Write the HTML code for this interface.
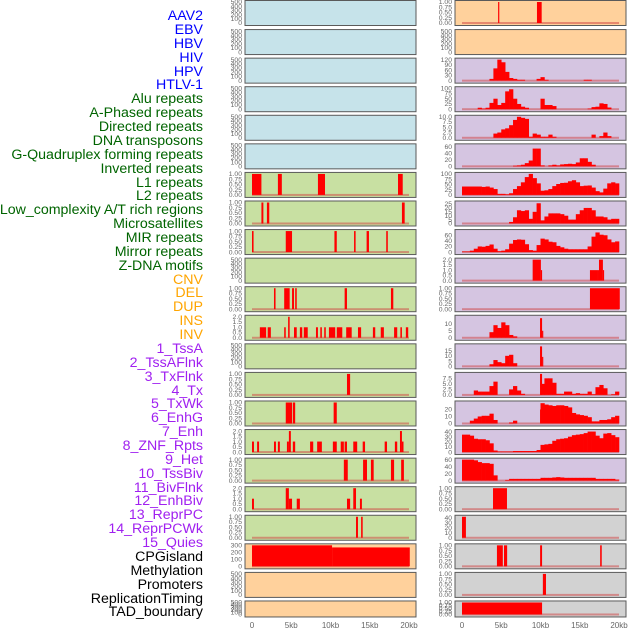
<!DOCTYPE html>
<html><head><meta charset="utf-8"><style>
html,body{margin:0;padding:0;background:#fff;}
svg{display:block;font-family:"Liberation Sans",sans-serif;}
.lab{font-size:14.2px;}
.tk{font-size:6.8px;fill:#666;}
.xt{font-size:8px;fill:#666;}
</style></head><body>
<svg id="chart" width="630" height="630" viewBox="0 0 630 630">
<g id="labels">
<text class="lab" x="203" y="20" text-anchor="end" fill="#0000ff">AAV2</text>
<text class="lab" x="203" y="34" text-anchor="end" fill="#0000ff">EBV</text>
<text class="lab" x="203" y="48" text-anchor="end" fill="#0000ff">HBV</text>
<text class="lab" x="203" y="62" text-anchor="end" fill="#0000ff">HIV</text>
<text class="lab" x="203" y="76" text-anchor="end" fill="#0000ff">HPV</text>
<text class="lab" x="203" y="89" text-anchor="end" fill="#0000ff">HTLV-1</text>
<text class="lab" x="203" y="103" text-anchor="end" fill="#006400">Alu repeats</text>
<text class="lab" x="203" y="117" text-anchor="end" fill="#006400">A-Phased repeats</text>
<text class="lab" x="203" y="131" text-anchor="end" fill="#006400">Directed repeats</text>
<text class="lab" x="203" y="145" text-anchor="end" fill="#006400">DNA transposons</text>
<text class="lab" x="203" y="159" text-anchor="end" fill="#006400">G-Quadruplex forming repeats</text>
<text class="lab" x="203" y="173" text-anchor="end" fill="#006400">Inverted repeats</text>
<text class="lab" x="203" y="187" text-anchor="end" fill="#006400">L1 repeats</text>
<text class="lab" x="203" y="200" text-anchor="end" fill="#006400">L2 repeats</text>
<text class="lab" x="203" y="214" text-anchor="end" fill="#006400">Low_complexity A/T rich regions</text>
<text class="lab" x="203" y="228" text-anchor="end" fill="#006400">Microsatellites</text>
<text class="lab" x="203" y="242" text-anchor="end" fill="#006400">MIR repeats</text>
<text class="lab" x="203" y="256" text-anchor="end" fill="#006400">Mirror repeats</text>
<text class="lab" x="203" y="270" text-anchor="end" fill="#006400">Z-DNA motifs</text>
<text class="lab" x="203" y="284" text-anchor="end" fill="#ffa500">CNV</text>
<text class="lab" x="203" y="297" text-anchor="end" fill="#ffa500">DEL</text>
<text class="lab" x="203" y="311" text-anchor="end" fill="#ffa500">DUP</text>
<text class="lab" x="203" y="325" text-anchor="end" fill="#ffa500">INS</text>
<text class="lab" x="203" y="339" text-anchor="end" fill="#ffa500">INV</text>
<text class="lab" x="203" y="353" text-anchor="end" fill="#a020f0">1_TssA</text>
<text class="lab" x="203" y="367" text-anchor="end" fill="#a020f0">2_TssAFlnk</text>
<text class="lab" x="203" y="381" text-anchor="end" fill="#a020f0">3_TxFlnk</text>
<text class="lab" x="203" y="395" text-anchor="end" fill="#a020f0">4_Tx</text>
<text class="lab" x="203" y="408" text-anchor="end" fill="#a020f0">5_TxWk</text>
<text class="lab" x="203" y="422" text-anchor="end" fill="#a020f0">6_EnhG</text>
<text class="lab" x="203" y="436" text-anchor="end" fill="#a020f0">7_Enh</text>
<text class="lab" x="203" y="450" text-anchor="end" fill="#a020f0">8_ZNF_Rpts</text>
<text class="lab" x="203" y="464" text-anchor="end" fill="#a020f0">9_Het</text>
<text class="lab" x="203" y="478" text-anchor="end" fill="#a020f0">10_TssBiv</text>
<text class="lab" x="203" y="492" text-anchor="end" fill="#a020f0">11_BivFlnk</text>
<text class="lab" x="203" y="505" text-anchor="end" fill="#a020f0">12_EnhBiv</text>
<text class="lab" x="203" y="519" text-anchor="end" fill="#a020f0">13_ReprPC</text>
<text class="lab" x="203" y="533" text-anchor="end" fill="#a020f0">14_ReprPCWk</text>
<text class="lab" x="203" y="547" text-anchor="end" fill="#a020f0">15_Quies</text>
<text class="lab" x="203" y="561" text-anchor="end" fill="#000">CPGisland</text>
<text class="lab" x="203" y="575" text-anchor="end" fill="#000">Methylation</text>
<text class="lab" x="203" y="589" text-anchor="end" fill="#000">Promoters</text>
<text class="lab" x="203" y="603" text-anchor="end" fill="#000">ReplicationTiming</text>
<text class="lab" x="203" y="616" text-anchor="end" fill="#000">TAD_boundary</text>
</g>
<g id="panels"></g>
<g id="xaxes"></g>
</svg>
<script>
// ---------- data (kb positions / values) ----------
const xTickValues = [0, 5, 10, 15, 20];
const xTickLabels = ["0", "5kb", "10kb", "15kb", "20kb"];
const binSize = 0.5;

// left column interval tracks: [startKb, endKb, value]
const leftL1 = [[0,1.2,1],[3.3,3.8,1],[8.4,9.3,1],[18.6,19.2,1]];
const leftL2 = [[1.2,1.45,1],[1.9,2.2,1],[19.1,19.45,1]];
const leftMIR = [[0,0.2,1],[4.3,5.1,1],[10.5,10.8,1],[13.0,13.2,1],[14.6,14.9,1],[17.1,17.3,1]];
const leftDEL = [[2.8,3.0,1],[4.1,4.8,1],[5.1,5.35,1],[5.5,5.7,1],[11.8,12.1,1],[17.7,18.0,1]];
const leftINS = [[1.0,1.8,1],[2.0,2.4,1],[4.1,4.3,1],[4.6,4.8,2],[5.35,5.7,1],[6.1,6.4,1],[6.6,7.1,1],[8.15,8.4,1],[8.7,8.9,1],[9.2,9.4,1],[9.8,10.6,1],[10.8,11.5,1],[12.0,12.7,1],[13.5,13.9,1],[15.4,15.7,1],[16.4,16.8,1],[18.1,18.5,1],[18.9,19.1,1],[19.6,19.9,1]];
const leftTssA = [[12.1,12.5,1]];
const leftTxFlnk = [[4.3,5.1,1],[5.2,5.5,1],[10.4,10.8,1]];
const leftTx = [[0,0.25,1],[0.65,0.9,1],[2.8,3.05,1],[3.3,3.55,1],[4.45,4.7,1],[4.7,4.95,2],[5.2,5.5,1],[7.4,7.8,1],[8.3,8.9,1],[10.3,10.8,1],[11.3,11.7,1],[11.8,12.1,1],[12.9,13.4,1],[14.1,14.4,1],[16.9,17.2,1],[18.2,18.5,1],[18.85,19.1,2],[19.1,19.3,1]];
const leftTxWk = [[11.7,12.2,1],[14.15,14.65,1],[15.15,15.5,1],[17.7,18.1,1],[19.0,19.35,1]];
const leftEnhG = [[0,0.25,1],[4.3,4.7,2],[4.7,5.1,1],[5.7,6.1,1],[12.1,12.5,1],[12.9,13.25,2],[13.75,14.0,1]];
const leftEnh = [[13.25,13.5,1],[13.9,14.1,1]];
const leftCPG = [[0,10.2,300],[10.2,20.1,270]];

// right column binned tracks (0.5kb bins, 40 bins)
const rightHIV = [0,0,0,0,0,0,0,10,70,120,105,50,15,10,5,5,0,0,0,10,20,5,0,0,0,0,0,0,0,0,0,5,5,0,0,0,0,0,0,0];
const rightHPV = [0,0,0,0,7,3,7,30,50,20,30,85,95,50,25,12,7,0,0,0,50,20,20,15,0,0,0,0,0,0,0,0,3,10,12,28,25,8,0,0];
const rightHTLV = [0,0,0,0,0,0,0,0,2,2.5,4,4.5,6,8.5,10,9.5,9,0.5,2,1.5,0.5,0.5,1.5,0.5,0,0,0,0,0,0,0,0,0,1.5,0,0.8,2.5,0.8,0,0];
const rightAlu = [0,0,0,0,0,0,0,0,0,0,0,0,0,2,3,5,10,18,55,55,3,0,3,5,3,6,7,8,7,12,25,25,14,5,0,0,0,0,0,0];
const rightAPhased = [40,40,40,40,40,38,40,35,28,5,5,3,8,28,42,60,85,100,80,55,20,22,28,42,52,57,58,65,70,60,42,44,45,35,18,12,30,55,60,55];
const rightDirected = [0,0,0,0,0,0,0,0,0,0,0,0,2,8,17,16,17,6,15,26,4,9,13,13,13,12,10,5,5,12,17,20,20,17,9,9,8,5,6,6];
const rightDNA = [2,2,5,12,20,19,22,27,12,3,5,10,30,43,45,44,28,7,5,25,48,45,37,35,22,17,12,10,10,10,10,10,20,55,70,62,60,45,35,38];
const rightLowCx = [0,0,0,0,0,0,0,4,9,7,11,9,2,1,0,0,0,0,0,0,0,0,0,0,0,0,0,0,0,0,0,0,0,0,0,0,0,0,0,0];
const rightMicro = [0,0,0,0,0,0,0,2,6,4,3,10,11,3,0,0,0,0,0,0,0,0,0,0,0,0,0,0,0,0,0,0,0,0,0,0,0,0,0,0];
const rightMIR = [0,0,0,2,1.5,1.5,1.5,4,6,0,0,0,2.5,4,2,0.5,0,0,0,0,5,7.5,7.5,5.5,0.5,0.5,1.5,1.5,0.5,0.8,0.5,0.5,1.5,0.3,3.5,4.5,3,0,0.3,1.5];
const rightMirror = [0,0,4,7,10,11,11,14,5,0,0,0,1.5,4,0,0,0,0,0,0,29,27,26,25,26,26,25,23,15,13,12,11,9,3,3,5,5,6,9,11];
const rightZDNA = [34,34,32,26,25,25,23,17,3,1,1,1,1,2,2,2,2,2,2,4,14,15,16,22,25,26,27,30,33,34,35,37,40,40,32,27,36,37,33,29];
const rightCNV = [60,60,60,58,53,50,50,48,15,0,0,2,5,5,5,5,5,5,5,5,8,8,8,9,10,9,8,8,8,8,8,8,8,8,5,5,5,5,5,3];

// right column interval tracks
const rightAAV2 = [[4.6,4.75,1],[9.55,10.15,1]];
const rightSpikeLowCx = [[9.94,10.2,14],[10.2,10.35,5]];
const rightSpikeMicro = [[9.94,10.2,19],[10.2,10.35,9]];
const rightSpikeMIR = [[9.94,10.2,9.5]];
const rightSpikeMirror = [[9.94,10.0,20]];
const rightGQuad = [[9.0,10.05,2],[10.05,10.2,1],[16.3,17.2,1],[17.2,17.45,1],[17.45,17.95,2],[17.95,18.1,1]];
const rightInverted = [[16.3,20.1,1]];
const rightDEL = [[3.95,5.73,1]];
const rightDUP = [[0,0.5,42]];
const rightINV = [[4.45,5.2,1],[5.35,5.75,1],[9.95,10.2,1],[17.6,17.8,1]];
const rightTssA = [[10.3,10.7,1]];
const rightTssAFlnk = [[0,10.2,1]];

// tick label sets
const ticksEmpty = [0,100,200,300,400,500];
const ticksUnit = [0,0.25,0.5,0.75,1];
const ticksTwo = [0,0.5,1,1.5,2];
</script>
<script>
const C = {blue:"#c6e3ea", green:"#c8e0a2", orange:"#ffd19c", purple:"#d5c5e1", gray:"#d2d2d2"};
function fmt(t, ticks){
  if (ticks === ticksUnit) return t.toFixed(2);
  if (ticks.some(v => v % 1 !== 0)) return t.toFixed(1);
  return String(t);
}
const panels = [
 [0,'L','blue',500,ticksEmpty,null,null,'aav2-left'],
 [1,'L','blue',500,ticksEmpty,null,null,'ebv-left'],
 [2,'L','blue',500,ticksEmpty,null,null,'hbv-left'],
 [3,'L','blue',500,ticksEmpty,null,null,'hiv-left'],
 [4,'L','blue',500,ticksEmpty,null,null,'hpv-left'],
 [5,'L','blue',500,ticksEmpty,null,null,'htlv-left'],
 [6,'L','green',1,ticksUnit,leftL1,null,'l1-left'],
 [7,'L','green',1,ticksUnit,leftL2,null,'l2-left'],
 [8,'L','green',1,ticksUnit,leftMIR,null,'mir-left'],
 [9,'L','green',500,ticksEmpty,null,null,'zdna-left'],
 [10,'L','green',1,ticksUnit,leftDEL,null,'del-left'],
 [11,'L','green',2,ticksTwo,leftINS,null,'ins-left'],
 [12,'L','green',500,ticksEmpty,null,null,'empty-left'],
 [13,'L','green',1,ticksUnit,leftTssA,null,'tssa-left'],
 [14,'L','green',1,ticksUnit,leftTxFlnk,null,'txflnk-left'],
 [15,'L','green',2,ticksTwo,leftTx,null,'tx-left'],
 [16,'L','green',1,ticksUnit,leftTxWk,null,'txwk-left'],
 [17,'L','green',2,ticksTwo,leftEnhG,null,'enhg-left'],
 [18,'L','green',1,ticksUnit,leftEnh,null,'enh-left'],
 [19,'L','orange',300,[0,100,200,300],leftCPG,null,'cpg-left'],
 [20,'L','orange',500,ticksEmpty,null,null,'promoters-left'],
 [21,'L','orange',500,ticksEmpty,null,null,'tad-left'],
 [0,'R','orange',1,ticksUnit,rightAAV2,null,'aav2-right'],
 [1,'R','orange',500,ticksEmpty,null,null,'ebv-right'],
 [2,'R','purple',120,[0,30,60,90,120],null,rightHIV,'hiv-right'],
 [3,'R','purple',100,[0,25,50,75,100],null,rightHPV,'hpv-right'],
 [4,'R','purple',10,[0,2.5,5,7.5,10],null,rightHTLV,'htlv-right'],
 [5,'R','purple',65,[0,20,40,60],null,rightAlu,'alu-right'],
 [6,'R','purple',100,[0,25,50,75,100],null,rightAPhased,'aphased-right'],
 [7,'R','purple',27,[0,5,10,15,20,25],null,rightDirected,'directed-right'],
 [8,'R','purple',75,[0,20,40,60],null,rightDNA,'dna-right'],
 [9,'R','purple',2,ticksTwo,rightGQuad,null,'gquad-right'],
 [10,'R','purple',1,ticksUnit,rightInverted,null,'inverted-right'],
 [11,'R','purple',15,[0,5,10],rightSpikeLowCx,rightLowCx,'lowcx-right'],
 [12,'R','purple',20,[0,5,10,15],rightSpikeMicro,rightMicro,'micro-right'],
 [13,'R','purple',9.5,[0,2.5,5,7.5],rightSpikeMIR,rightMIR,'mir-right'],
 [14,'R','purple',30,[0,10,20],rightSpikeMirror,rightMirror,'mirror-right'],
 [15,'R','purple',41,[0,10,20,30,40],null,rightZDNA,'zdna-right'],
 [16,'R','purple',60,[0,20,40,60],null,rightCNV,'cnv-right'],
 [17,'R','gray',1,ticksUnit,rightDEL,null,'del-right'],
 [18,'R','gray',42,[0,10,20,30,40],rightDUP,null,'dup-right'],
 [19,'R','gray',1,ticksUnit,rightINV,null,'inv-right'],
 [20,'R','gray',1,ticksUnit,rightTssA,null,'tssa-right'],
 [21,'R','gray',1,ticksUnit,rightTssAFlnk,null,'tssaflnk-right'],
];
const NS = "http://www.w3.org/2000/svg";
const root = document.getElementById('panels');
function mk(tag, attrs, parent){
  const e = document.createElementNS(NS, tag);
  for (const k in attrs) e.setAttribute(k, attrs[k]);
  parent.appendChild(e); return e;
}
function xScale(side){ const x0 = side==='L'?252:462; return kb => x0 + kb*7.85; }
panels.forEach(p=>{
  const [row, side, bg, ymax, ticks, ivs, bins, name] = p;
  const top = row===0 ? 0.5 : 1 + row*28.57;
  const h = row===21 ? 16 : 25;
  const left = side==='L'?245:455;
  const w = 171;
  const g = mk('g', {}, root);
  
  
  const bgr = mk('rect', {x:left, y:top, width:w, height:h, fill:C[bg], stroke:'#5a5a5a', 'stroke-width':1}, g);
  
  
  const x = xScale(side);
  const yb = top + h - 2.5, yt = top + 1.5;
  const y = v => yb - (v/ymax)*(yb-yt);
  const isEmpty = !ivs && !bins;
  ticks.forEach(t=>{
    const tx = mk('text', {x:left-3, y:y(t)+2.2, 'text-anchor':'end', class:'tk'}, g);
    
    
    tx.textContent = ticks===ticksEmpty ? String(t) : fmt(t, ticks);
  });
  if (isEmpty) return;
  const bl = mk('rect', {x:x(0), y:yb-1, width:x(20)-x(0), height:2, fill:'#d04040', opacity:0.5}, g);
  
  
  if (bins) bins.forEach((v,i)=>{
    if (v<=0) return;
    const r = mk('rect', {x:x(i*binSize), y:y(v), width:x((i+1)*binSize)-x(i*binSize)+0.3, height:yb-y(v), fill:'#ff0000'}, g);
    
    
  });
  if (ivs) ivs.forEach(d=>{
    const r = mk('rect', {x:x(d[0]), y:y(d[2]), width:Math.max(1.2, x(d[1])-x(d[0])), height:yb-y(d[2]), fill:'#ff0000'}, g);
    
    
  });
});
const xa = document.getElementById('xaxes');
['L','R'].forEach(side=>{
  const x = xScale(side);
  xTickValues.forEach((v,i)=>{
    const t = mk('text', {x:x(v), y:628, 'text-anchor':'middle', class:'xt'}, xa);
    
    
    t.textContent = xTickLabels[i];
  });
});
</script>
</body></html>
